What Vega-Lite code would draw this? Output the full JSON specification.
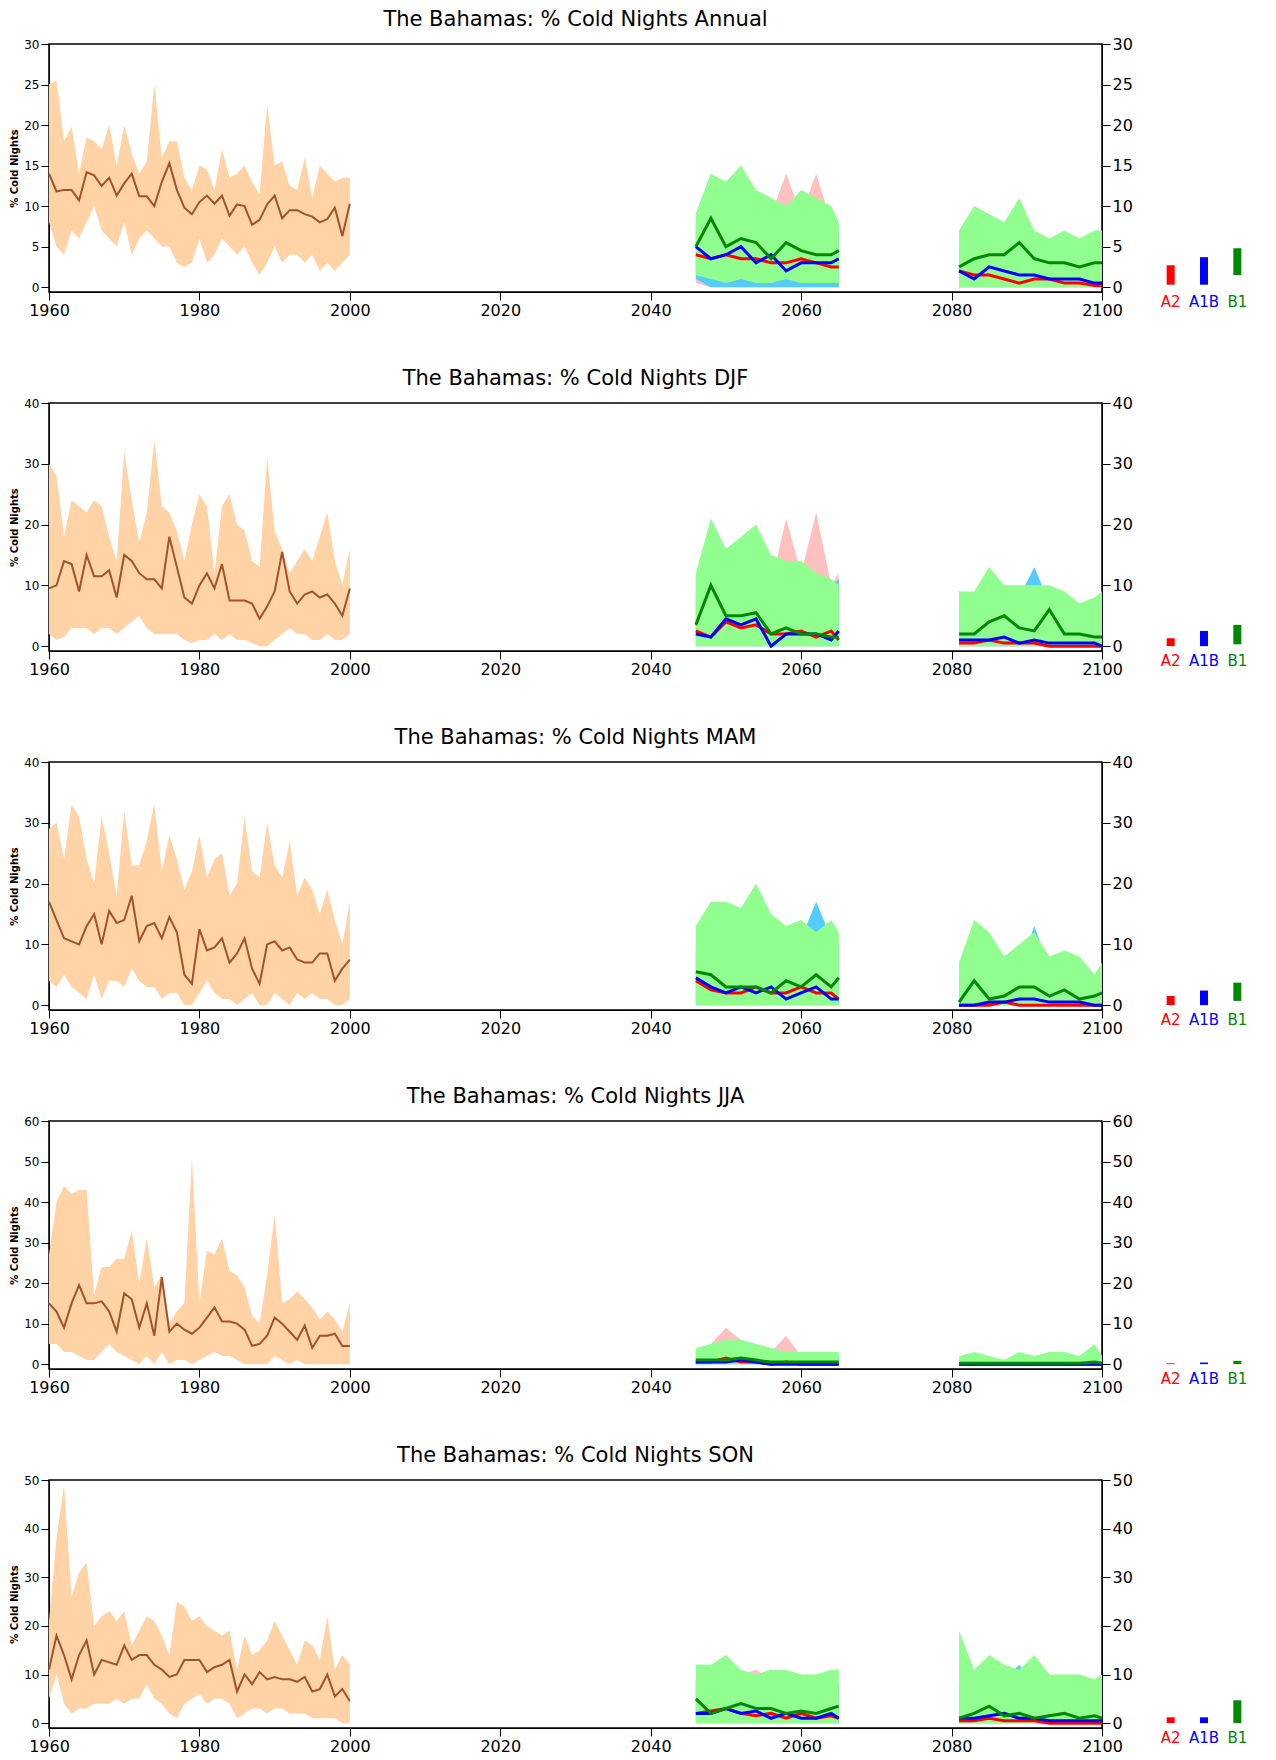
{
"$schema":"https://vega.github.io/schema/vega-lite/v6.json",
"padding":{"left":8,"top":8,"right":5,"bottom":5},
"config":{"font":"DejaVu Sans","view":{"stroke":"black","strokeWidth":1.5},"axis":{"grid":false,"labelFlush":false,"domainColor":"black","tickColor":"black","labelColor":"black","labelFont":"DejaVu Sans"}},
"datasets":{
"ann":[
{"s":"O","g":0,"x":1960,"l":8,"h":25,"m":14},{"s":"O","g":0,"x":1961,"l":5,"h":25.5,"m":11.8},{"s":"O","g":0,"x":1962,"l":4,"h":18,"m":12},{"s":"O","g":0,"x":1963,"l":7,"h":19.8,"m":12},{"s":"O","g":0,"x":1964,"l":6,"h":14,"m":10.7},{"s":"O","g":0,"x":1965,"l":8,"h":18.5,"m":14.2},{"s":"O","g":0,"x":1966,"l":10,"h":18,"m":13.8},{"s":"O","g":0,"x":1967,"l":7,"h":17,"m":12.5},{"s":"O","g":0,"x":1968,"l":6,"h":20,"m":13.5},{"s":"O","g":0,"x":1969,"l":5,"h":15,"m":11.3},
{"s":"O","g":0,"x":1970,"l":8,"h":20,"m":12.8},{"s":"O","g":0,"x":1971,"l":4,"h":16.5,"m":14},{"s":"O","g":0,"x":1972,"l":6,"h":14,"m":11.2},{"s":"O","g":0,"x":1973,"l":7,"h":15.5,"m":11.2},{"s":"O","g":0,"x":1974,"l":6,"h":25,"m":10},{"s":"O","g":0,"x":1975,"l":5,"h":16,"m":13},{"s":"O","g":0,"x":1976,"l":5,"h":18,"m":15.3},{"s":"O","g":0,"x":1977,"l":3,"h":18,"m":12},{"s":"O","g":0,"x":1978,"l":2.5,"h":13.5,"m":9.8},{"s":"O","g":0,"x":1979,"l":3,"h":12,"m":9},
{"s":"O","g":0,"x":1980,"l":6,"h":15,"m":10.5},{"s":"O","g":0,"x":1981,"l":3,"h":14.5,"m":11.3},{"s":"O","g":0,"x":1982,"l":4,"h":12,"m":10.3},{"s":"O","g":0,"x":1983,"l":6,"h":17,"m":11.3},{"s":"O","g":0,"x":1984,"l":5,"h":13.5,"m":8.8},{"s":"O","g":0,"x":1985,"l":4,"h":14,"m":10.2},{"s":"O","g":0,"x":1986,"l":5,"h":15,"m":10},{"s":"O","g":0,"x":1987,"l":3,"h":13,"m":7.7},{"s":"O","g":0,"x":1988,"l":1.5,"h":11.5,"m":8.3},{"s":"O","g":0,"x":1989,"l":3,"h":22.5,"m":10.2},
{"s":"O","g":0,"x":1990,"l":5,"h":15,"m":11.3},{"s":"O","g":0,"x":1991,"l":3,"h":15.5,"m":8.5},{"s":"O","g":0,"x":1992,"l":4,"h":12.5,"m":9.5},{"s":"O","g":0,"x":1993,"l":4,"h":12,"m":9.5},{"s":"O","g":0,"x":1994,"l":3,"h":16,"m":9},{"s":"O","g":0,"x":1995,"l":4,"h":11,"m":8.7},{"s":"O","g":0,"x":1996,"l":2,"h":15,"m":8},{"s":"O","g":0,"x":1997,"l":3,"h":14,"m":8.4},{"s":"O","g":0,"x":1998,"l":2,"h":13,"m":9.8},{"s":"O","g":0,"x":1999,"l":3,"h":13.5,"m":6.3},{"s":"O","g":0,"x":2000,"l":4,"h":13.5,"m":10.3},
{"s":"A2","g":1,"x":2046,"l":0.5,"h":8,"m":4},{"s":"A2","g":1,"x":2048,"l":0,"h":12,"m":3.5},{"s":"A2","g":1,"x":2050,"l":0,"h":10,"m":4},{"s":"A2","g":1,"x":2052,"l":0,"h":11,"m":3.5},{"s":"A2","g":1,"x":2054,"l":0,"h":10,"m":3.5},{"s":"A2","g":1,"x":2056,"l":0,"h":9,"m":3},{"s":"A2","g":1,"x":2058,"l":0,"h":14,"m":3},{"s":"A2","g":1,"x":2060,"l":0,"h":9,"m":3.5},{"s":"A2","g":1,"x":2062,"l":0,"h":14,"m":3},{"s":"A2","g":1,"x":2064,"l":0,"h":8,"m":2.5},{"s":"A2","g":1,"x":2065,"l":0,"h":7,"m":2.5},
{"s":"A1B","g":1,"x":2046,"l":1,"h":9,"m":5},{"s":"A1B","g":1,"x":2048,"l":0,"h":14,"m":3.5},{"s":"A1B","g":1,"x":2050,"l":0,"h":10,"m":4},{"s":"A1B","g":1,"x":2052,"l":0,"h":12,"m":5},{"s":"A1B","g":1,"x":2054,"l":0,"h":10,"m":3},{"s":"A1B","g":1,"x":2056,"l":0,"h":9,"m":4},{"s":"A1B","g":1,"x":2058,"l":0,"h":9,"m":2},{"s":"A1B","g":1,"x":2060,"l":0,"h":10,"m":3},{"s":"A1B","g":1,"x":2062,"l":0,"h":9,"m":3},{"s":"A1B","g":1,"x":2064,"l":0,"h":7,"m":3},{"s":"A1B","g":1,"x":2065,"l":0,"h":7,"m":3.5},
{"s":"B1","g":1,"x":2046,"l":1.5,"h":9,"m":5},{"s":"B1","g":1,"x":2048,"l":1,"h":14,"m":8.5},{"s":"B1","g":1,"x":2050,"l":0.5,"h":13,"m":5},{"s":"B1","g":1,"x":2052,"l":1,"h":15,"m":6},{"s":"B1","g":1,"x":2054,"l":0.5,"h":12,"m":5.5},{"s":"B1","g":1,"x":2056,"l":0.5,"h":11,"m":3.5},{"s":"B1","g":1,"x":2058,"l":1,"h":10,"m":5.5},{"s":"B1","g":1,"x":2060,"l":0.5,"h":12,"m":4.5},{"s":"B1","g":1,"x":2062,"l":0.5,"h":11,"m":4},{"s":"B1","g":1,"x":2064,"l":0.5,"h":10,"m":4},{"s":"B1","g":1,"x":2065,"l":0.5,"h":8,"m":4.5},
{"s":"A2","g":2,"x":2081,"l":0,"h":4,"m":2},{"s":"A2","g":2,"x":2083,"l":0,"h":5,"m":1.5},{"s":"A2","g":2,"x":2085,"l":0,"h":5,"m":1.5},{"s":"A2","g":2,"x":2087,"l":0,"h":4,"m":1},{"s":"A2","g":2,"x":2089,"l":0,"h":4,"m":0.5},{"s":"A2","g":2,"x":2091,"l":0,"h":5,"m":1},{"s":"A2","g":2,"x":2093,"l":0,"h":3,"m":1},{"s":"A2","g":2,"x":2095,"l":0,"h":3,"m":0.5},{"s":"A2","g":2,"x":2097,"l":0,"h":3,"m":0.5},{"s":"A2","g":2,"x":2099,"l":0,"h":2,"m":0.2},{"s":"A2","g":2,"x":2100,"l":0,"h":2,"m":0.2},
{"s":"A1B","g":2,"x":2081,"l":0,"h":5,"m":2},{"s":"A1B","g":2,"x":2083,"l":0,"h":5,"m":1},{"s":"A1B","g":2,"x":2085,"l":0,"h":6,"m":2.5},{"s":"A1B","g":2,"x":2087,"l":0,"h":5,"m":2},{"s":"A1B","g":2,"x":2089,"l":0,"h":5,"m":1.5},{"s":"A1B","g":2,"x":2091,"l":0,"h":5,"m":1.5},{"s":"A1B","g":2,"x":2093,"l":0,"h":4,"m":1},{"s":"A1B","g":2,"x":2095,"l":0,"h":4,"m":1},{"s":"A1B","g":2,"x":2097,"l":0,"h":4,"m":1},{"s":"A1B","g":2,"x":2099,"l":0,"h":3,"m":0.5},{"s":"A1B","g":2,"x":2100,"l":0,"h":3,"m":0.5},
{"s":"B1","g":2,"x":2081,"l":0,"h":7,"m":2.5},{"s":"B1","g":2,"x":2083,"l":0,"h":10,"m":3.5},{"s":"B1","g":2,"x":2085,"l":0,"h":9,"m":4},{"s":"B1","g":2,"x":2087,"l":0,"h":8,"m":4},{"s":"B1","g":2,"x":2089,"l":0,"h":11,"m":5.5},{"s":"B1","g":2,"x":2091,"l":0,"h":7,"m":3.5},{"s":"B1","g":2,"x":2093,"l":0,"h":6,"m":3},{"s":"B1","g":2,"x":2095,"l":0,"h":7,"m":3},{"s":"B1","g":2,"x":2097,"l":0,"h":6,"m":2.5},{"s":"B1","g":2,"x":2099,"l":0,"h":7,"m":3},{"s":"B1","g":2,"x":2100,"l":0,"h":7,"m":3}
],
"djf":[
{"s":"O","g":0,"x":1960,"l":2,"h":30,"m":9.5},{"s":"O","g":0,"x":1961,"l":1,"h":28,"m":10},{"s":"O","g":0,"x":1962,"l":1.5,"h":18,"m":14},{"s":"O","g":0,"x":1963,"l":3,"h":24,"m":13.5},{"s":"O","g":0,"x":1964,"l":3,"h":23,"m":9},{"s":"O","g":0,"x":1965,"l":3,"h":22,"m":15},{"s":"O","g":0,"x":1966,"l":2,"h":24,"m":11.5},{"s":"O","g":0,"x":1967,"l":3,"h":23,"m":11.5},{"s":"O","g":0,"x":1968,"l":3,"h":18,"m":12.5},{"s":"O","g":0,"x":1969,"l":2,"h":14,"m":8},
{"s":"O","g":0,"x":1970,"l":3,"h":32,"m":15},{"s":"O","g":0,"x":1971,"l":4,"h":24,"m":14},{"s":"O","g":0,"x":1972,"l":5,"h":17,"m":12},{"s":"O","g":0,"x":1973,"l":3,"h":22,"m":11},{"s":"O","g":0,"x":1974,"l":2,"h":34,"m":11},{"s":"O","g":0,"x":1975,"l":2,"h":23,"m":9.5},{"s":"O","g":0,"x":1976,"l":2,"h":22,"m":18},{"s":"O","g":0,"x":1977,"l":2,"h":19,"m":13},{"s":"O","g":0,"x":1978,"l":1,"h":14,"m":8},{"s":"O","g":0,"x":1979,"l":0.5,"h":20,"m":7},
{"s":"O","g":0,"x":1980,"l":1,"h":25,"m":10},{"s":"O","g":0,"x":1981,"l":1,"h":23,"m":12},{"s":"O","g":0,"x":1982,"l":2,"h":12,"m":9.5},{"s":"O","g":0,"x":1983,"l":1,"h":23,"m":13.5},{"s":"O","g":0,"x":1984,"l":2,"h":25,"m":7.5},{"s":"O","g":0,"x":1985,"l":1,"h":20,"m":7.5},{"s":"O","g":0,"x":1986,"l":1,"h":19,"m":7.5},{"s":"O","g":0,"x":1987,"l":0.5,"h":14,"m":7},{"s":"O","g":0,"x":1988,"l":0,"h":13,"m":4.5},{"s":"O","g":0,"x":1989,"l":0,"h":31,"m":6.5},
{"s":"O","g":0,"x":1990,"l":1,"h":19,"m":9},{"s":"O","g":0,"x":1991,"l":2,"h":16,"m":15.5},{"s":"O","g":0,"x":1992,"l":3,"h":12,"m":9},{"s":"O","g":0,"x":1993,"l":2,"h":14,"m":7},{"s":"O","g":0,"x":1994,"l":2,"h":16,"m":8.5},{"s":"O","g":0,"x":1995,"l":1,"h":14,"m":9},{"s":"O","g":0,"x":1996,"l":1,"h":18,"m":8},{"s":"O","g":0,"x":1997,"l":2,"h":22,"m":8.5},{"s":"O","g":0,"x":1998,"l":1,"h":14,"m":7},{"s":"O","g":0,"x":1999,"l":1,"h":10,"m":5},{"s":"O","g":0,"x":2000,"l":2,"h":16,"m":9.5},
{"s":"A2","g":1,"x":2046,"l":0,"h":9,"m":2.5},{"s":"A2","g":1,"x":2048,"l":0,"h":18,"m":1.5},{"s":"A2","g":1,"x":2050,"l":0,"h":12,"m":4},{"s":"A2","g":1,"x":2052,"l":0,"h":13,"m":3},{"s":"A2","g":1,"x":2054,"l":0,"h":12,"m":3.5},{"s":"A2","g":1,"x":2056,"l":0,"h":10,"m":2},{"s":"A2","g":1,"x":2058,"l":0,"h":21,"m":2},{"s":"A2","g":1,"x":2060,"l":0,"h":12,"m":2.5},{"s":"A2","g":1,"x":2062,"l":0,"h":22,"m":1.5},{"s":"A2","g":1,"x":2064,"l":0,"h":10,"m":2.5},{"s":"A2","g":1,"x":2065,"l":0,"h":12,"m":1},
{"s":"A1B","g":1,"x":2046,"l":0,"h":11,"m":2},{"s":"A1B","g":1,"x":2048,"l":0,"h":18,"m":1.5},{"s":"A1B","g":1,"x":2050,"l":0,"h":14,"m":4.5},{"s":"A1B","g":1,"x":2052,"l":0,"h":14,"m":3.5},{"s":"A1B","g":1,"x":2054,"l":0,"h":13,"m":4.5},{"s":"A1B","g":1,"x":2056,"l":0,"h":12,"m":0},{"s":"A1B","g":1,"x":2058,"l":0,"h":12,"m":2},{"s":"A1B","g":1,"x":2060,"l":0,"h":13,"m":2},{"s":"A1B","g":1,"x":2062,"l":0,"h":11,"m":2},{"s":"A1B","g":1,"x":2064,"l":0,"h":10,"m":1},{"s":"A1B","g":1,"x":2065,"l":0,"h":11,"m":2.5},
{"s":"B1","g":1,"x":2046,"l":0,"h":12,"m":3.5},{"s":"B1","g":1,"x":2048,"l":0,"h":21,"m":10},{"s":"B1","g":1,"x":2050,"l":0,"h":16,"m":5},{"s":"B1","g":1,"x":2052,"l":0,"h":18,"m":5},{"s":"B1","g":1,"x":2054,"l":0,"h":20,"m":5.5},{"s":"B1","g":1,"x":2056,"l":0,"h":15,"m":2},{"s":"B1","g":1,"x":2058,"l":0,"h":14,"m":3},{"s":"B1","g":1,"x":2060,"l":0,"h":14,"m":2},{"s":"B1","g":1,"x":2062,"l":0,"h":12,"m":2},{"s":"B1","g":1,"x":2064,"l":0,"h":11,"m":1.5},{"s":"B1","g":1,"x":2065,"l":0,"h":10,"m":1.5},
{"s":"A2","g":2,"x":2081,"l":0,"h":5,"m":0.5},{"s":"A2","g":2,"x":2083,"l":0,"h":6,"m":0.5},{"s":"A2","g":2,"x":2085,"l":0,"h":6,"m":1},{"s":"A2","g":2,"x":2087,"l":0,"h":6,"m":0.5},{"s":"A2","g":2,"x":2089,"l":0,"h":5,"m":0.5},{"s":"A2","g":2,"x":2091,"l":0,"h":6,"m":0.5},{"s":"A2","g":2,"x":2093,"l":0,"h":5,"m":0},{"s":"A2","g":2,"x":2095,"l":0,"h":4,"m":0},{"s":"A2","g":2,"x":2097,"l":0,"h":4,"m":0},{"s":"A2","g":2,"x":2099,"l":0,"h":3,"m":0},{"s":"A2","g":2,"x":2100,"l":0,"h":3,"m":0},
{"s":"A1B","g":2,"x":2081,"l":0,"h":9,"m":1},{"s":"A1B","g":2,"x":2083,"l":0,"h":8,"m":1},{"s":"A1B","g":2,"x":2085,"l":0,"h":9,"m":1},{"s":"A1B","g":2,"x":2087,"l":0,"h":10,"m":1.5},{"s":"A1B","g":2,"x":2089,"l":0,"h":8,"m":0.5},{"s":"A1B","g":2,"x":2091,"l":0,"h":13,"m":1},{"s":"A1B","g":2,"x":2093,"l":0,"h":7,"m":0.5},{"s":"A1B","g":2,"x":2095,"l":0,"h":7,"m":0.5},{"s":"A1B","g":2,"x":2097,"l":0,"h":6,"m":0.5},{"s":"A1B","g":2,"x":2099,"l":0,"h":5,"m":0.5},{"s":"A1B","g":2,"x":2100,"l":0,"h":4,"m":0},
{"s":"B1","g":2,"x":2081,"l":0,"h":9,"m":2},{"s":"B1","g":2,"x":2083,"l":0,"h":9,"m":2},{"s":"B1","g":2,"x":2085,"l":0,"h":13,"m":4},{"s":"B1","g":2,"x":2087,"l":0,"h":10,"m":5},{"s":"B1","g":2,"x":2089,"l":0,"h":10,"m":3},{"s":"B1","g":2,"x":2091,"l":0,"h":10,"m":2.5},{"s":"B1","g":2,"x":2093,"l":0,"h":10,"m":6},{"s":"B1","g":2,"x":2095,"l":0,"h":9,"m":2},{"s":"B1","g":2,"x":2097,"l":0,"h":7,"m":2},{"s":"B1","g":2,"x":2099,"l":0,"h":8,"m":1.5},{"s":"B1","g":2,"x":2100,"l":0,"h":9,"m":1.5}
],
"mam":[
{"s":"O","g":0,"x":1960,"l":4,"h":29,"m":17},{"s":"O","g":0,"x":1961,"l":3,"h":30,"m":14},{"s":"O","g":0,"x":1962,"l":5,"h":24,"m":11},{"s":"O","g":0,"x":1963,"l":3,"h":33,"m":10.5},{"s":"O","g":0,"x":1964,"l":2,"h":31,"m":10},{"s":"O","g":0,"x":1965,"l":1,"h":24,"m":13},{"s":"O","g":0,"x":1966,"l":5,"h":20,"m":15},{"s":"O","g":0,"x":1967,"l":1,"h":31,"m":10},{"s":"O","g":0,"x":1968,"l":4,"h":25,"m":15.5},{"s":"O","g":0,"x":1969,"l":4,"h":18,"m":13.5},
{"s":"O","g":0,"x":1970,"l":3,"h":32,"m":14},{"s":"O","g":0,"x":1971,"l":6,"h":23,"m":18},{"s":"O","g":0,"x":1972,"l":4,"h":23,"m":10.5},{"s":"O","g":0,"x":1973,"l":3,"h":27,"m":13},{"s":"O","g":0,"x":1974,"l":3,"h":33,"m":13.5},{"s":"O","g":0,"x":1975,"l":1,"h":22,"m":11},{"s":"O","g":0,"x":1976,"l":2,"h":28,"m":14.5},{"s":"O","g":0,"x":1977,"l":2,"h":24,"m":12},{"s":"O","g":0,"x":1978,"l":0,"h":19,"m":5},{"s":"O","g":0,"x":1979,"l":0,"h":22,"m":3.5},
{"s":"O","g":0,"x":1980,"l":2,"h":28,"m":12.5},{"s":"O","g":0,"x":1981,"l":4,"h":21,"m":9},{"s":"O","g":0,"x":1982,"l":2,"h":24,"m":9.5},{"s":"O","g":0,"x":1983,"l":1,"h":25,"m":11},{"s":"O","g":0,"x":1984,"l":1,"h":18,"m":7},{"s":"O","g":0,"x":1985,"l":0,"h":20,"m":8.5},{"s":"O","g":0,"x":1986,"l":1,"h":31,"m":11},{"s":"O","g":0,"x":1987,"l":2,"h":22,"m":6},{"s":"O","g":0,"x":1988,"l":0,"h":21,"m":3.5},{"s":"O","g":0,"x":1989,"l":0,"h":30,"m":10},
{"s":"O","g":0,"x":1990,"l":2,"h":23,"m":10.5},{"s":"O","g":0,"x":1991,"l":1,"h":21,"m":9},{"s":"O","g":0,"x":1992,"l":0,"h":27,"m":9.5},{"s":"O","g":0,"x":1993,"l":2,"h":18,"m":7.5},{"s":"O","g":0,"x":1994,"l":1,"h":21,"m":7},{"s":"O","g":0,"x":1995,"l":2,"h":19,"m":7},{"s":"O","g":0,"x":1996,"l":1,"h":15,"m":8.5},{"s":"O","g":0,"x":1997,"l":1,"h":19,"m":8.5},{"s":"O","g":0,"x":1998,"l":0,"h":14,"m":4},{"s":"O","g":0,"x":1999,"l":0,"h":10,"m":6},{"s":"O","g":0,"x":2000,"l":1,"h":17,"m":7.5},
{"s":"A2","g":1,"x":2046,"l":0,"h":9,"m":4},{"s":"A2","g":1,"x":2048,"l":0,"h":12,"m":2.5},{"s":"A2","g":1,"x":2050,"l":0,"h":14,"m":2},{"s":"A2","g":1,"x":2052,"l":0,"h":12,"m":2},{"s":"A2","g":1,"x":2054,"l":0,"h":12,"m":3},{"s":"A2","g":1,"x":2056,"l":0,"h":11,"m":2},{"s":"A2","g":1,"x":2058,"l":0,"h":13,"m":2},{"s":"A2","g":1,"x":2060,"l":0,"h":10,"m":3},{"s":"A2","g":1,"x":2062,"l":0,"h":15,"m":2},{"s":"A2","g":1,"x":2064,"l":0,"h":11,"m":2},{"s":"A2","g":1,"x":2065,"l":0,"h":10,"m":1},
{"s":"A1B","g":1,"x":2046,"l":0,"h":10,"m":4.5},{"s":"A1B","g":1,"x":2048,"l":0,"h":13,"m":3},{"s":"A1B","g":1,"x":2050,"l":0,"h":15,"m":2},{"s":"A1B","g":1,"x":2052,"l":0,"h":12,"m":3},{"s":"A1B","g":1,"x":2054,"l":0,"h":12,"m":2},{"s":"A1B","g":1,"x":2056,"l":0,"h":11,"m":3},{"s":"A1B","g":1,"x":2058,"l":0,"h":13,"m":1},{"s":"A1B","g":1,"x":2060,"l":0,"h":11,"m":2},{"s":"A1B","g":1,"x":2062,"l":0,"h":17,"m":3},{"s":"A1B","g":1,"x":2064,"l":0,"h":11,"m":1},{"s":"A1B","g":1,"x":2065,"l":0,"h":10,"m":1},
{"s":"B1","g":1,"x":2046,"l":0,"h":13,"m":5.5},{"s":"B1","g":1,"x":2048,"l":0,"h":17,"m":5},{"s":"B1","g":1,"x":2050,"l":0,"h":17,"m":3},{"s":"B1","g":1,"x":2052,"l":0,"h":16,"m":3},{"s":"B1","g":1,"x":2054,"l":0,"h":20,"m":3},{"s":"B1","g":1,"x":2056,"l":0,"h":15,"m":2},{"s":"B1","g":1,"x":2058,"l":0,"h":13,"m":4},{"s":"B1","g":1,"x":2060,"l":0,"h":14,"m":3},{"s":"B1","g":1,"x":2062,"l":0,"h":12,"m":5},{"s":"B1","g":1,"x":2064,"l":0,"h":14,"m":3},{"s":"B1","g":1,"x":2065,"l":0,"h":12,"m":4.5},
{"s":"A2","g":2,"x":2081,"l":0,"h":4,"m":0},{"s":"A2","g":2,"x":2083,"l":0,"h":5,"m":0},{"s":"A2","g":2,"x":2085,"l":0,"h":5,"m":0},{"s":"A2","g":2,"x":2087,"l":0,"h":5,"m":0.5},{"s":"A2","g":2,"x":2089,"l":0,"h":5,"m":0},{"s":"A2","g":2,"x":2091,"l":0,"h":6,"m":0},{"s":"A2","g":2,"x":2093,"l":0,"h":5,"m":0},{"s":"A2","g":2,"x":2095,"l":0,"h":4,"m":0},{"s":"A2","g":2,"x":2097,"l":0,"h":4,"m":0},{"s":"A2","g":2,"x":2099,"l":0,"h":3,"m":0},{"s":"A2","g":2,"x":2100,"l":0,"h":3,"m":0},
{"s":"A1B","g":2,"x":2081,"l":0,"h":5,"m":0},{"s":"A1B","g":2,"x":2083,"l":0,"h":7,"m":0},{"s":"A1B","g":2,"x":2085,"l":0,"h":8,"m":0.5},{"s":"A1B","g":2,"x":2087,"l":0,"h":7,"m":0.5},{"s":"A1B","g":2,"x":2089,"l":0,"h":6,"m":1},{"s":"A1B","g":2,"x":2091,"l":0,"h":13,"m":1},{"s":"A1B","g":2,"x":2093,"l":0,"h":6,"m":0.5},{"s":"A1B","g":2,"x":2095,"l":0,"h":6,"m":0.5},{"s":"A1B","g":2,"x":2097,"l":0,"h":5,"m":0.5},{"s":"A1B","g":2,"x":2099,"l":0,"h":4,"m":0},{"s":"A1B","g":2,"x":2100,"l":0,"h":6,"m":0},
{"s":"B1","g":2,"x":2081,"l":0,"h":7,"m":0.5},{"s":"B1","g":2,"x":2083,"l":0,"h":14,"m":4},{"s":"B1","g":2,"x":2085,"l":0,"h":12,"m":1},{"s":"B1","g":2,"x":2087,"l":0,"h":8,"m":1.5},{"s":"B1","g":2,"x":2089,"l":0,"h":10,"m":3},{"s":"B1","g":2,"x":2091,"l":0,"h":12,"m":3},{"s":"B1","g":2,"x":2093,"l":0,"h":8,"m":1.5},{"s":"B1","g":2,"x":2095,"l":0,"h":9,"m":2.5},{"s":"B1","g":2,"x":2097,"l":0,"h":8,"m":1},{"s":"B1","g":2,"x":2099,"l":0,"h":5,"m":1.5},{"s":"B1","g":2,"x":2100,"l":0,"h":7,"m":2}
],
"jja":[
{"s":"O","g":0,"x":1960,"l":5,"h":27,"m":15},{"s":"O","g":0,"x":1961,"l":5,"h":40,"m":13},{"s":"O","g":0,"x":1962,"l":3,"h":44,"m":9},{"s":"O","g":0,"x":1963,"l":3,"h":42,"m":15},{"s":"O","g":0,"x":1964,"l":2,"h":43,"m":19.5},{"s":"O","g":0,"x":1965,"l":1,"h":43,"m":15},{"s":"O","g":0,"x":1966,"l":1,"h":17,"m":15},{"s":"O","g":0,"x":1967,"l":3,"h":24,"m":15.5},{"s":"O","g":0,"x":1968,"l":5,"h":24,"m":13},{"s":"O","g":0,"x":1969,"l":3,"h":26,"m":8},
{"s":"O","g":0,"x":1970,"l":2,"h":26,"m":17.5},{"s":"O","g":0,"x":1971,"l":1,"h":33,"m":16},{"s":"O","g":0,"x":1972,"l":0,"h":20,"m":9},{"s":"O","g":0,"x":1973,"l":2,"h":31,"m":15},{"s":"O","g":0,"x":1974,"l":0,"h":19,"m":7},{"s":"O","g":0,"x":1975,"l":3,"h":22,"m":21.5},{"s":"O","g":0,"x":1976,"l":0,"h":10,"m":8},{"s":"O","g":0,"x":1977,"l":1,"h":13,"m":10},{"s":"O","g":0,"x":1978,"l":1,"h":15,"m":8.5},{"s":"O","g":0,"x":1979,"l":0,"h":51,"m":7.5},
{"s":"O","g":0,"x":1980,"l":1,"h":15,"m":9},{"s":"O","g":0,"x":1981,"l":2,"h":28,"m":11.5},{"s":"O","g":0,"x":1982,"l":3,"h":27,"m":14},{"s":"O","g":0,"x":1983,"l":2,"h":31,"m":10.5},{"s":"O","g":0,"x":1984,"l":2,"h":23,"m":10.5},{"s":"O","g":0,"x":1985,"l":1,"h":22,"m":10},{"s":"O","g":0,"x":1986,"l":0,"h":19,"m":8.5},{"s":"O","g":0,"x":1987,"l":0,"h":12,"m":4.5},{"s":"O","g":0,"x":1988,"l":0,"h":10,"m":5},{"s":"O","g":0,"x":1989,"l":0,"h":22,"m":7},
{"s":"O","g":0,"x":1990,"l":2,"h":37,"m":11.5},{"s":"O","g":0,"x":1991,"l":1,"h":15,"m":10},{"s":"O","g":0,"x":1992,"l":0,"h":16,"m":8},{"s":"O","g":0,"x":1993,"l":1,"h":18,"m":6},{"s":"O","g":0,"x":1994,"l":0,"h":16,"m":9.5},{"s":"O","g":0,"x":1995,"l":0,"h":14,"m":4},{"s":"O","g":0,"x":1996,"l":0,"h":11,"m":7},{"s":"O","g":0,"x":1997,"l":0,"h":13,"m":7},{"s":"O","g":0,"x":1998,"l":0,"h":11,"m":7.5},{"s":"O","g":0,"x":1999,"l":0,"h":8,"m":4.5},{"s":"O","g":0,"x":2000,"l":0,"h":15,"m":4.5},
{"s":"A2","g":1,"x":2046,"l":0,"h":3,"m":0.5},{"s":"A2","g":1,"x":2048,"l":0,"h":5,"m":0.5},{"s":"A2","g":1,"x":2050,"l":0,"h":9,"m":1.5},{"s":"A2","g":1,"x":2052,"l":0,"h":6,"m":0.5},{"s":"A2","g":1,"x":2054,"l":0,"h":4,"m":0.5},{"s":"A2","g":1,"x":2056,"l":0,"h":3,"m":0},{"s":"A2","g":1,"x":2058,"l":0,"h":7,"m":0.5},{"s":"A2","g":1,"x":2060,"l":0,"h":2,"m":0},{"s":"A2","g":1,"x":2062,"l":0,"h":2,"m":0},{"s":"A2","g":1,"x":2064,"l":0,"h":2,"m":0},{"s":"A2","g":1,"x":2065,"l":0,"h":2,"m":0},
{"s":"A1B","g":1,"x":2046,"l":0,"h":3,"m":0.5},{"s":"A1B","g":1,"x":2048,"l":0,"h":4,"m":0.5},{"s":"A1B","g":1,"x":2050,"l":0,"h":5,"m":0.5},{"s":"A1B","g":1,"x":2052,"l":0,"h":5,"m":1},{"s":"A1B","g":1,"x":2054,"l":0,"h":4,"m":0.5},{"s":"A1B","g":1,"x":2056,"l":0,"h":3,"m":0},{"s":"A1B","g":1,"x":2058,"l":0,"h":3,"m":0},{"s":"A1B","g":1,"x":2060,"l":0,"h":2,"m":0},{"s":"A1B","g":1,"x":2062,"l":0,"h":2,"m":0},{"s":"A1B","g":1,"x":2064,"l":0,"h":2,"m":0},{"s":"A1B","g":1,"x":2065,"l":0,"h":2,"m":0},
{"s":"B1","g":1,"x":2046,"l":0,"h":4,"m":1},{"s":"B1","g":1,"x":2048,"l":0,"h":5,"m":1},{"s":"B1","g":1,"x":2050,"l":0,"h":6,"m":1},{"s":"B1","g":1,"x":2052,"l":0,"h":6,"m":1.5},{"s":"B1","g":1,"x":2054,"l":0,"h":5,"m":1},{"s":"B1","g":1,"x":2056,"l":0,"h":4,"m":0.5},{"s":"B1","g":1,"x":2058,"l":0,"h":3,"m":0.5},{"s":"B1","g":1,"x":2060,"l":0,"h":3,"m":0.5},{"s":"B1","g":1,"x":2062,"l":0,"h":3,"m":0.5},{"s":"B1","g":1,"x":2064,"l":0,"h":3,"m":0.5},{"s":"B1","g":1,"x":2065,"l":0,"h":3,"m":0.5},
{"s":"A2","g":2,"x":2081,"l":0,"h":1,"m":0},{"s":"A2","g":2,"x":2083,"l":0,"h":1,"m":0},{"s":"A2","g":2,"x":2085,"l":0,"h":1,"m":0},{"s":"A2","g":2,"x":2087,"l":0,"h":1,"m":0},{"s":"A2","g":2,"x":2089,"l":0,"h":1,"m":0},{"s":"A2","g":2,"x":2091,"l":0,"h":1,"m":0},{"s":"A2","g":2,"x":2093,"l":0,"h":2,"m":0},{"s":"A2","g":2,"x":2095,"l":0,"h":1,"m":0},{"s":"A2","g":2,"x":2097,"l":0,"h":1,"m":0},{"s":"A2","g":2,"x":2099,"l":0,"h":1,"m":0},{"s":"A2","g":2,"x":2100,"l":0,"h":1,"m":0},
{"s":"A1B","g":2,"x":2081,"l":0,"h":1,"m":0},{"s":"A1B","g":2,"x":2083,"l":0,"h":1,"m":0},{"s":"A1B","g":2,"x":2085,"l":0,"h":1,"m":0},{"s":"A1B","g":2,"x":2087,"l":0,"h":1,"m":0},{"s":"A1B","g":2,"x":2089,"l":0,"h":2,"m":0},{"s":"A1B","g":2,"x":2091,"l":0,"h":1,"m":0},{"s":"A1B","g":2,"x":2093,"l":0,"h":3,"m":0},{"s":"A1B","g":2,"x":2095,"l":0,"h":2,"m":0},{"s":"A1B","g":2,"x":2097,"l":0,"h":2,"m":0},{"s":"A1B","g":2,"x":2099,"l":0,"h":2,"m":0},{"s":"A1B","g":2,"x":2100,"l":0,"h":2,"m":0},
{"s":"B1","g":2,"x":2081,"l":0,"h":2,"m":0.2},{"s":"B1","g":2,"x":2083,"l":0,"h":3,"m":0.2},{"s":"B1","g":2,"x":2085,"l":0,"h":2,"m":0.2},{"s":"B1","g":2,"x":2087,"l":0,"h":1,"m":0.2},{"s":"B1","g":2,"x":2089,"l":0,"h":3,"m":0.2},{"s":"B1","g":2,"x":2091,"l":0,"h":2,"m":0.2},{"s":"B1","g":2,"x":2093,"l":0,"h":3,"m":0.2},{"s":"B1","g":2,"x":2095,"l":0,"h":3,"m":0.2},{"s":"B1","g":2,"x":2097,"l":0,"h":2,"m":0.2},{"s":"B1","g":2,"x":2099,"l":0,"h":5,"m":0.5},{"s":"B1","g":2,"x":2100,"l":0,"h":2,"m":0.2}
],
"son":[
{"s":"O","g":0,"x":1960,"l":5,"h":21,"m":11},{"s":"O","g":0,"x":1961,"l":10,"h":38,"m":18},{"s":"O","g":0,"x":1962,"l":4,"h":49,"m":14},{"s":"O","g":0,"x":1963,"l":2,"h":26,"m":9},{"s":"O","g":0,"x":1964,"l":3,"h":31,"m":14},{"s":"O","g":0,"x":1965,"l":3,"h":33,"m":17},{"s":"O","g":0,"x":1966,"l":4,"h":20,"m":10},{"s":"O","g":0,"x":1967,"l":4,"h":22,"m":13},{"s":"O","g":0,"x":1968,"l":4,"h":23,"m":12.5},{"s":"O","g":0,"x":1969,"l":5,"h":21,"m":12},
{"s":"O","g":0,"x":1970,"l":4,"h":23,"m":16},{"s":"O","g":0,"x":1971,"l":5,"h":16,"m":13},{"s":"O","g":0,"x":1972,"l":5,"h":19,"m":14},{"s":"O","g":0,"x":1973,"l":8,"h":22,"m":14},{"s":"O","g":0,"x":1974,"l":5,"h":21,"m":12},{"s":"O","g":0,"x":1975,"l":4,"h":18,"m":11},{"s":"O","g":0,"x":1976,"l":2,"h":14,"m":9.5},{"s":"O","g":0,"x":1977,"l":1,"h":25,"m":10},{"s":"O","g":0,"x":1978,"l":4,"h":24,"m":13},{"s":"O","g":0,"x":1979,"l":5,"h":21,"m":13},
{"s":"O","g":0,"x":1980,"l":6,"h":22,"m":13},{"s":"O","g":0,"x":1981,"l":4,"h":20,"m":10.5},{"s":"O","g":0,"x":1982,"l":5,"h":19,"m":11.5},{"s":"O","g":0,"x":1983,"l":5,"h":18,"m":12},{"s":"O","g":0,"x":1984,"l":4,"h":19,"m":13},{"s":"O","g":0,"x":1985,"l":1,"h":11,"m":6.5},{"s":"O","g":0,"x":1986,"l":2,"h":18,"m":10},{"s":"O","g":0,"x":1987,"l":3,"h":14,"m":8},{"s":"O","g":0,"x":1988,"l":3,"h":15,"m":10.5},{"s":"O","g":0,"x":1989,"l":2,"h":17,"m":9},
{"s":"O","g":0,"x":1990,"l":3,"h":21,"m":9.5},{"s":"O","g":0,"x":1991,"l":3,"h":18,"m":9},{"s":"O","g":0,"x":1992,"l":2,"h":15,"m":9},{"s":"O","g":0,"x":1993,"l":2,"h":12,"m":8.5},{"s":"O","g":0,"x":1994,"l":2,"h":17,"m":9.5},{"s":"O","g":0,"x":1995,"l":1,"h":16,"m":6.5},{"s":"O","g":0,"x":1996,"l":1,"h":13,"m":7},{"s":"O","g":0,"x":1997,"l":1,"h":22,"m":10},{"s":"O","g":0,"x":1998,"l":1,"h":11,"m":5.5},{"s":"O","g":0,"x":1999,"l":0,"h":14,"m":7},{"s":"O","g":0,"x":2000,"l":0,"h":12,"m":4.5},
{"s":"A2","g":1,"x":2046,"l":0,"h":9,"m":2},{"s":"A2","g":1,"x":2048,"l":0,"h":10,"m":2.5},{"s":"A2","g":1,"x":2050,"l":0,"h":11,"m":3},{"s":"A2","g":1,"x":2052,"l":0,"h":10,"m":2},{"s":"A2","g":1,"x":2054,"l":0,"h":11,"m":1.5},{"s":"A2","g":1,"x":2056,"l":0,"h":9,"m":2},{"s":"A2","g":1,"x":2058,"l":0,"h":8,"m":1},{"s":"A2","g":1,"x":2060,"l":0,"h":8,"m":2},{"s":"A2","g":1,"x":2062,"l":0,"h":9,"m":1},{"s":"A2","g":1,"x":2064,"l":0,"h":8,"m":1.5},{"s":"A2","g":1,"x":2065,"l":0,"h":7,"m":1},
{"s":"A1B","g":1,"x":2046,"l":0,"h":9,"m":2},{"s":"A1B","g":1,"x":2048,"l":0,"h":10,"m":2},{"s":"A1B","g":1,"x":2050,"l":0,"h":12,"m":3},{"s":"A1B","g":1,"x":2052,"l":0,"h":10,"m":2},{"s":"A1B","g":1,"x":2054,"l":0,"h":9,"m":2.5},{"s":"A1B","g":1,"x":2056,"l":0,"h":11,"m":1},{"s":"A1B","g":1,"x":2058,"l":0,"h":8,"m":2},{"s":"A1B","g":1,"x":2060,"l":0,"h":10,"m":1},{"s":"A1B","g":1,"x":2062,"l":0,"h":9,"m":1},{"s":"A1B","g":1,"x":2064,"l":0,"h":8,"m":2},{"s":"A1B","g":1,"x":2065,"l":0,"h":8,"m":1},
{"s":"B1","g":1,"x":2046,"l":0,"h":12,"m":5},{"s":"B1","g":1,"x":2048,"l":0,"h":12,"m":2},{"s":"B1","g":1,"x":2050,"l":0,"h":14,"m":3},{"s":"B1","g":1,"x":2052,"l":0,"h":11,"m":4},{"s":"B1","g":1,"x":2054,"l":0,"h":10,"m":3},{"s":"B1","g":1,"x":2056,"l":0,"h":11,"m":3},{"s":"B1","g":1,"x":2058,"l":0,"h":11,"m":2},{"s":"B1","g":1,"x":2060,"l":0,"h":10,"m":2.5},{"s":"B1","g":1,"x":2062,"l":0,"h":10,"m":2},{"s":"B1","g":1,"x":2064,"l":0,"h":11,"m":3},{"s":"B1","g":1,"x":2065,"l":0,"h":11,"m":3.5},
{"s":"A2","g":2,"x":2081,"l":0,"h":6,"m":0.5},{"s":"A2","g":2,"x":2083,"l":0,"h":5,"m":0.5},{"s":"A2","g":2,"x":2085,"l":0,"h":6,"m":1},{"s":"A2","g":2,"x":2087,"l":0,"h":6,"m":0.5},{"s":"A2","g":2,"x":2089,"l":0,"h":7,"m":0.5},{"s":"A2","g":2,"x":2091,"l":0,"h":6,"m":0.5},{"s":"A2","g":2,"x":2093,"l":0,"h":5,"m":0},{"s":"A2","g":2,"x":2095,"l":0,"h":5,"m":0},{"s":"A2","g":2,"x":2097,"l":0,"h":4,"m":0},{"s":"A2","g":2,"x":2099,"l":0,"h":4,"m":0},{"s":"A2","g":2,"x":2100,"l":0,"h":4,"m":0},
{"s":"A1B","g":2,"x":2081,"l":0,"h":8,"m":1},{"s":"A1B","g":2,"x":2083,"l":0,"h":7,"m":1},{"s":"A1B","g":2,"x":2085,"l":0,"h":8,"m":1.5},{"s":"A1B","g":2,"x":2087,"l":0,"h":9,"m":2},{"s":"A1B","g":2,"x":2089,"l":0,"h":12,"m":1},{"s":"A1B","g":2,"x":2091,"l":0,"h":8,"m":1},{"s":"A1B","g":2,"x":2093,"l":0,"h":8,"m":0.5},{"s":"A1B","g":2,"x":2095,"l":0,"h":7,"m":0.5},{"s":"A1B","g":2,"x":2097,"l":0,"h":6,"m":0.5},{"s":"A1B","g":2,"x":2099,"l":0,"h":6,"m":0.5},{"s":"A1B","g":2,"x":2100,"l":0,"h":6,"m":0.5},
{"s":"B1","g":2,"x":2081,"l":0,"h":19,"m":1},{"s":"B1","g":2,"x":2083,"l":0,"h":11,"m":2},{"s":"B1","g":2,"x":2085,"l":0,"h":14,"m":3.5},{"s":"B1","g":2,"x":2087,"l":0,"h":12,"m":1.5},{"s":"B1","g":2,"x":2089,"l":0,"h":11,"m":2},{"s":"B1","g":2,"x":2091,"l":0,"h":14,"m":1},{"s":"B1","g":2,"x":2093,"l":0,"h":10,"m":1.5},{"s":"B1","g":2,"x":2095,"l":0,"h":10,"m":2},{"s":"B1","g":2,"x":2097,"l":0,"h":10,"m":1},{"s":"B1","g":2,"x":2099,"l":0,"h":9,"m":1.5},{"s":"B1","g":2,"x":2100,"l":0,"h":10,"m":1}
],
"leg":[
{"p":"ann","s":"A2","l":0.3,"h":2.7},{"p":"ann","s":"A1B","l":0.3,"h":3.7},{"p":"ann","s":"B1","l":1.5,"h":4.8},
{"p":"djf","s":"A2","l":0,"h":1.3},{"p":"djf","s":"A1B","l":0,"h":2.5},{"p":"djf","s":"B1","l":0.3,"h":3.5},
{"p":"mam","s":"A2","l":0,"h":1.5},{"p":"mam","s":"A1B","l":0,"h":2.4},{"p":"mam","s":"B1","l":0.7,"h":3.7},
{"p":"jja","s":"A2","l":0,"h":0.2},{"p":"jja","s":"A1B","l":0,"h":0.4},{"p":"jja","s":"B1","l":0,"h":0.8},
{"p":"son","s":"A2","l":0,"h":1.2},{"p":"son","s":"A1B","l":0,"h":1.2},{"p":"son","s":"B1","l":0,"h":4.7}
]
},
"vconcat":[
{"hconcat":[
{"data":{"name":"ann"},"width":1053,"height":248,"title":{"text":"The Bahamas: % Cold Nights Annual","fontSize":21,"fontWeight":"normal","offset":6},
"layer":[
{"transform":[{"filter":"datum.s=='O'"}],"mark":{"type":"area","color":"#FFD3A6"},"encoding":{"x":{"field":"x","type":"quantitative","scale":{"domain":[1960,2100],"nice":false},"axis":{"values":[1960,1980,2000,2020,2040,2060,2080,2100],"format":"d","title":null,"labelFontSize":16,"tickSize":8}},"y":{"field":"l","type":"quantitative","scale":{"domain":[-0.6,30],"nice":false},"axis":{"values":[0,5,10,15,20,25,30],"title":"% Cold Nights","titleFontSize":10,"labelFontSize":12,"tickSize":8}},"y2":{"field":"h"}}},
{"transform":[{"filter":"datum.s=='A2'"}],"mark":{"type":"area","color":"#FFC0C0"},"encoding":{"x":{"field":"x","type":"quantitative"},"y":{"field":"l","type":"quantitative","axis":null},"y2":{"field":"h"},"detail":{"field":"g"}}},
{"transform":[{"filter":"datum.s=='A1B'"}],"mark":{"type":"area","color":"#55CCFF"},"encoding":{"x":{"field":"x","type":"quantitative"},"y":{"field":"l","type":"quantitative","axis":null},"y2":{"field":"h"},"detail":{"field":"g"}}},
{"transform":[{"filter":"datum.s=='B1'"}],"mark":{"type":"area","color":"#90FF90"},"encoding":{"x":{"field":"x","type":"quantitative"},"y":{"field":"l","type":"quantitative","axis":null},"y2":{"field":"h"},"detail":{"field":"g"}}},
{"transform":[{"filter":"datum.s=='O'"}],"mark":{"type":"line","color":"#A0522D","strokeWidth":2},"encoding":{"x":{"field":"x","type":"quantitative"},"y":{"field":"m","type":"quantitative","axis":{"orient":"right","values":[0,5,10,15,20,25,30],"title":null,"labelFontSize":16,"tickSize":8}}}},
{"transform":[{"filter":"datum.s!='O'"}],"mark":{"type":"line","strokeWidth":3},"encoding":{"x":{"field":"x","type":"quantitative"},"y":{"field":"m","type":"quantitative","axis":null},"color":{"field":"s","type":"nominal","scale":{"domain":["A2","A1B","B1"],"range":["#FF0000","#0000FF","#008800"]},"legend":null},"detail":{"field":"g"}}}
],"resolve":{"axis":{"y":"independent"}}},
{"data":{"name":"leg"},"transform":[{"filter":"datum.p=='ann'"}],"width":100,"height":248,"view":{"stroke":null},"mark":{"type":"bar","width":8},"encoding":{"x":{"field":"s","type":"nominal","sort":["A2","A1B","B1"],"axis":{"title":null,"domain":false,"ticks":false,"labelAngle":0,"labelFontSize":15,"labelColor":{"expr":"datum.value=='A2'?'#FF0000':datum.value=='A1B'?'#0000FF':'#008800'"}}},"y":{"field":"l","type":"quantitative","scale":{"domain":[-0.6,30],"nice":false},"axis":null},"y2":{"field":"h"},"color":{"field":"s","type":"nominal","scale":{"domain":["A2","A1B","B1"],"range":["#FF0000","#0000FF","#008800"]},"legend":null}}}
],"spacing":20},
{"hconcat":[
{"data":{"name":"djf"},"width":1053,"height":248,"title":{"text":"The Bahamas: % Cold Nights DJF","fontSize":21,"fontWeight":"normal","offset":6},
"layer":[
{"transform":[{"filter":"datum.s=='O'"}],"mark":{"type":"area","color":"#FFD3A6"},"encoding":{"x":{"field":"x","type":"quantitative","scale":{"domain":[1960,2100],"nice":false},"axis":{"values":[1960,1980,2000,2020,2040,2060,2080,2100],"format":"d","title":null,"labelFontSize":16,"tickSize":8}},"y":{"field":"l","type":"quantitative","scale":{"domain":[-0.8,40],"nice":false},"axis":{"values":[0,10,20,30,40],"title":"% Cold Nights","titleFontSize":10,"labelFontSize":12,"tickSize":8}},"y2":{"field":"h"}}},
{"transform":[{"filter":"datum.s=='A2'"}],"mark":{"type":"area","color":"#FFC0C0"},"encoding":{"x":{"field":"x","type":"quantitative"},"y":{"field":"l","type":"quantitative","axis":null},"y2":{"field":"h"},"detail":{"field":"g"}}},
{"transform":[{"filter":"datum.s=='A1B'"}],"mark":{"type":"area","color":"#55CCFF"},"encoding":{"x":{"field":"x","type":"quantitative"},"y":{"field":"l","type":"quantitative","axis":null},"y2":{"field":"h"},"detail":{"field":"g"}}},
{"transform":[{"filter":"datum.s=='B1'"}],"mark":{"type":"area","color":"#90FF90"},"encoding":{"x":{"field":"x","type":"quantitative"},"y":{"field":"l","type":"quantitative","axis":null},"y2":{"field":"h"},"detail":{"field":"g"}}},
{"transform":[{"filter":"datum.s=='O'"}],"mark":{"type":"line","color":"#A0522D","strokeWidth":2},"encoding":{"x":{"field":"x","type":"quantitative"},"y":{"field":"m","type":"quantitative","axis":{"orient":"right","values":[0,10,20,30,40],"title":null,"labelFontSize":16,"tickSize":8}}}},
{"transform":[{"filter":"datum.s!='O'"}],"mark":{"type":"line","strokeWidth":3},"encoding":{"x":{"field":"x","type":"quantitative"},"y":{"field":"m","type":"quantitative","axis":null},"color":{"field":"s","type":"nominal","scale":{"domain":["A2","A1B","B1"],"range":["#FF0000","#0000FF","#008800"]},"legend":null},"detail":{"field":"g"}}}
],"resolve":{"axis":{"y":"independent"}}},
{"data":{"name":"leg"},"transform":[{"filter":"datum.p=='djf'"}],"width":100,"height":248,"view":{"stroke":null},"mark":{"type":"bar","width":8},"encoding":{"x":{"field":"s","type":"nominal","sort":["A2","A1B","B1"],"axis":{"title":null,"domain":false,"ticks":false,"labelAngle":0,"labelFontSize":15,"labelColor":{"expr":"datum.value=='A2'?'#FF0000':datum.value=='A1B'?'#0000FF':'#008800'"}}},"y":{"field":"l","type":"quantitative","scale":{"domain":[-0.8,40],"nice":false},"axis":null},"y2":{"field":"h"},"color":{"field":"s","type":"nominal","scale":{"domain":["A2","A1B","B1"],"range":["#FF0000","#0000FF","#008800"]},"legend":null}}}
],"spacing":20},
{"hconcat":[
{"data":{"name":"mam"},"width":1053,"height":248,"title":{"text":"The Bahamas: % Cold Nights MAM","fontSize":21,"fontWeight":"normal","offset":6},
"layer":[
{"transform":[{"filter":"datum.s=='O'"}],"mark":{"type":"area","color":"#FFD3A6"},"encoding":{"x":{"field":"x","type":"quantitative","scale":{"domain":[1960,2100],"nice":false},"axis":{"values":[1960,1980,2000,2020,2040,2060,2080,2100],"format":"d","title":null,"labelFontSize":16,"tickSize":8}},"y":{"field":"l","type":"quantitative","scale":{"domain":[-0.8,40],"nice":false},"axis":{"values":[0,10,20,30,40],"title":"% Cold Nights","titleFontSize":10,"labelFontSize":12,"tickSize":8}},"y2":{"field":"h"}}},
{"transform":[{"filter":"datum.s=='A2'"}],"mark":{"type":"area","color":"#FFC0C0"},"encoding":{"x":{"field":"x","type":"quantitative"},"y":{"field":"l","type":"quantitative","axis":null},"y2":{"field":"h"},"detail":{"field":"g"}}},
{"transform":[{"filter":"datum.s=='A1B'"}],"mark":{"type":"area","color":"#55CCFF"},"encoding":{"x":{"field":"x","type":"quantitative"},"y":{"field":"l","type":"quantitative","axis":null},"y2":{"field":"h"},"detail":{"field":"g"}}},
{"transform":[{"filter":"datum.s=='B1'"}],"mark":{"type":"area","color":"#90FF90"},"encoding":{"x":{"field":"x","type":"quantitative"},"y":{"field":"l","type":"quantitative","axis":null},"y2":{"field":"h"},"detail":{"field":"g"}}},
{"transform":[{"filter":"datum.s=='O'"}],"mark":{"type":"line","color":"#A0522D","strokeWidth":2},"encoding":{"x":{"field":"x","type":"quantitative"},"y":{"field":"m","type":"quantitative","axis":{"orient":"right","values":[0,10,20,30,40],"title":null,"labelFontSize":16,"tickSize":8}}}},
{"transform":[{"filter":"datum.s!='O'"}],"mark":{"type":"line","strokeWidth":3},"encoding":{"x":{"field":"x","type":"quantitative"},"y":{"field":"m","type":"quantitative","axis":null},"color":{"field":"s","type":"nominal","scale":{"domain":["A2","A1B","B1"],"range":["#FF0000","#0000FF","#008800"]},"legend":null},"detail":{"field":"g"}}}
],"resolve":{"axis":{"y":"independent"}}},
{"data":{"name":"leg"},"transform":[{"filter":"datum.p=='mam'"}],"width":100,"height":248,"view":{"stroke":null},"mark":{"type":"bar","width":8},"encoding":{"x":{"field":"s","type":"nominal","sort":["A2","A1B","B1"],"axis":{"title":null,"domain":false,"ticks":false,"labelAngle":0,"labelFontSize":15,"labelColor":{"expr":"datum.value=='A2'?'#FF0000':datum.value=='A1B'?'#0000FF':'#008800'"}}},"y":{"field":"l","type":"quantitative","scale":{"domain":[-0.8,40],"nice":false},"axis":null},"y2":{"field":"h"},"color":{"field":"s","type":"nominal","scale":{"domain":["A2","A1B","B1"],"range":["#FF0000","#0000FF","#008800"]},"legend":null}}}
],"spacing":20},
{"hconcat":[
{"data":{"name":"jja"},"width":1053,"height":248,"title":{"text":"The Bahamas: % Cold Nights JJA","fontSize":21,"fontWeight":"normal","offset":6},
"layer":[
{"transform":[{"filter":"datum.s=='O'"}],"mark":{"type":"area","color":"#FFD3A6"},"encoding":{"x":{"field":"x","type":"quantitative","scale":{"domain":[1960,2100],"nice":false},"axis":{"values":[1960,1980,2000,2020,2040,2060,2080,2100],"format":"d","title":null,"labelFontSize":16,"tickSize":8}},"y":{"field":"l","type":"quantitative","scale":{"domain":[-1.2,60],"nice":false},"axis":{"values":[0,10,20,30,40,50,60],"title":"% Cold Nights","titleFontSize":10,"labelFontSize":12,"tickSize":8}},"y2":{"field":"h"}}},
{"transform":[{"filter":"datum.s=='A2'"}],"mark":{"type":"area","color":"#FFC0C0"},"encoding":{"x":{"field":"x","type":"quantitative"},"y":{"field":"l","type":"quantitative","axis":null},"y2":{"field":"h"},"detail":{"field":"g"}}},
{"transform":[{"filter":"datum.s=='A1B'"}],"mark":{"type":"area","color":"#55CCFF"},"encoding":{"x":{"field":"x","type":"quantitative"},"y":{"field":"l","type":"quantitative","axis":null},"y2":{"field":"h"},"detail":{"field":"g"}}},
{"transform":[{"filter":"datum.s=='B1'"}],"mark":{"type":"area","color":"#90FF90"},"encoding":{"x":{"field":"x","type":"quantitative"},"y":{"field":"l","type":"quantitative","axis":null},"y2":{"field":"h"},"detail":{"field":"g"}}},
{"transform":[{"filter":"datum.s=='O'"}],"mark":{"type":"line","color":"#A0522D","strokeWidth":2},"encoding":{"x":{"field":"x","type":"quantitative"},"y":{"field":"m","type":"quantitative","axis":{"orient":"right","values":[0,10,20,30,40,50,60],"title":null,"labelFontSize":16,"tickSize":8}}}},
{"transform":[{"filter":"datum.s!='O'"}],"mark":{"type":"line","strokeWidth":3},"encoding":{"x":{"field":"x","type":"quantitative"},"y":{"field":"m","type":"quantitative","axis":null},"color":{"field":"s","type":"nominal","scale":{"domain":["A2","A1B","B1"],"range":["#FF0000","#0000FF","#008800"]},"legend":null},"detail":{"field":"g"}}}
],"resolve":{"axis":{"y":"independent"}}},
{"data":{"name":"leg"},"transform":[{"filter":"datum.p=='jja'"}],"width":100,"height":248,"view":{"stroke":null},"mark":{"type":"bar","width":8},"encoding":{"x":{"field":"s","type":"nominal","sort":["A2","A1B","B1"],"axis":{"title":null,"domain":false,"ticks":false,"labelAngle":0,"labelFontSize":15,"labelColor":{"expr":"datum.value=='A2'?'#FF0000':datum.value=='A1B'?'#0000FF':'#008800'"}}},"y":{"field":"l","type":"quantitative","scale":{"domain":[-1.2,60],"nice":false},"axis":null},"y2":{"field":"h"},"color":{"field":"s","type":"nominal","scale":{"domain":["A2","A1B","B1"],"range":["#FF0000","#0000FF","#008800"]},"legend":null}}}
],"spacing":20},
{"hconcat":[
{"data":{"name":"son"},"width":1053,"height":248,"title":{"text":"The Bahamas: % Cold Nights SON","fontSize":21,"fontWeight":"normal","offset":6},
"layer":[
{"transform":[{"filter":"datum.s=='O'"}],"mark":{"type":"area","color":"#FFD3A6"},"encoding":{"x":{"field":"x","type":"quantitative","scale":{"domain":[1960,2100],"nice":false},"axis":{"values":[1960,1980,2000,2020,2040,2060,2080,2100],"format":"d","title":null,"labelFontSize":16,"tickSize":8}},"y":{"field":"l","type":"quantitative","scale":{"domain":[-1,50],"nice":false},"axis":{"values":[0,10,20,30,40,50],"title":"% Cold Nights","titleFontSize":10,"labelFontSize":12,"tickSize":8}},"y2":{"field":"h"}}},
{"transform":[{"filter":"datum.s=='A2'"}],"mark":{"type":"area","color":"#FFC0C0"},"encoding":{"x":{"field":"x","type":"quantitative"},"y":{"field":"l","type":"quantitative","axis":null},"y2":{"field":"h"},"detail":{"field":"g"}}},
{"transform":[{"filter":"datum.s=='A1B'"}],"mark":{"type":"area","color":"#55CCFF"},"encoding":{"x":{"field":"x","type":"quantitative"},"y":{"field":"l","type":"quantitative","axis":null},"y2":{"field":"h"},"detail":{"field":"g"}}},
{"transform":[{"filter":"datum.s=='B1'"}],"mark":{"type":"area","color":"#90FF90"},"encoding":{"x":{"field":"x","type":"quantitative"},"y":{"field":"l","type":"quantitative","axis":null},"y2":{"field":"h"},"detail":{"field":"g"}}},
{"transform":[{"filter":"datum.s=='O'"}],"mark":{"type":"line","color":"#A0522D","strokeWidth":2},"encoding":{"x":{"field":"x","type":"quantitative"},"y":{"field":"m","type":"quantitative","axis":{"orient":"right","values":[0,10,20,30,40,50],"title":null,"labelFontSize":16,"tickSize":8}}}},
{"transform":[{"filter":"datum.s!='O'"}],"mark":{"type":"line","strokeWidth":3},"encoding":{"x":{"field":"x","type":"quantitative"},"y":{"field":"m","type":"quantitative","axis":null},"color":{"field":"s","type":"nominal","scale":{"domain":["A2","A1B","B1"],"range":["#FF0000","#0000FF","#008800"]},"legend":null},"detail":{"field":"g"}}}
],"resolve":{"axis":{"y":"independent"}}},
{"data":{"name":"leg"},"transform":[{"filter":"datum.p=='son'"}],"width":100,"height":248,"view":{"stroke":null},"mark":{"type":"bar","width":8},"encoding":{"x":{"field":"s","type":"nominal","sort":["A2","A1B","B1"],"axis":{"title":null,"domain":false,"ticks":false,"labelAngle":0,"labelFontSize":15,"labelColor":{"expr":"datum.value=='A2'?'#FF0000':datum.value=='A1B'?'#0000FF':'#008800'"}}},"y":{"field":"l","type":"quantitative","scale":{"domain":[-1,50],"nice":false},"axis":null},"y2":{"field":"h"},"color":{"field":"s","type":"nominal","scale":{"domain":["A2","A1B","B1"],"range":["#FF0000","#0000FF","#008800"]},"legend":null}}}
],"spacing":20}
],"spacing":48}
